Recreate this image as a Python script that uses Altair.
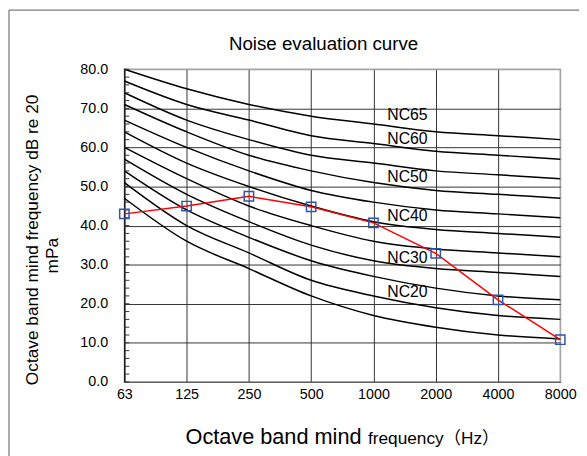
import altair as alt
import pandas as pd

# ---- data ----
bands = ["63", "125", "250", "500", "1000", "2000", "4000", "8000"]

nc15 = [47, 36, 29, 22, 17, 14, 12, 11]
nc20 = [51, 40, 33, 26, 22, 19, 17, 16]
nc25 = [54, 44, 37, 31, 27, 24, 22, 21]
nc30 = [57, 48, 41, 35, 31, 29, 28, 27]
nc35 = [60, 52, 45, 40, 36, 34, 33, 32]
nc40 = [64, 56, 50, 45, 41, 39, 38, 37]
nc45 = [67, 60, 54, 49, 46, 44, 43, 42]
nc50 = [71, 64, 58, 54, 51, 49, 48, 47]
nc55 = [74, 67, 62, 58, 56, 54, 53, 52]
nc60 = [77, 71, 67, 63, 61, 59, 58, 57]
nc65 = [80, 75, 71, 68, 66, 64, 63, 62]

measured = [43.0, 45.0, 47.5, 44.8, 40.7, 32.9, 21.0, 10.8]

label_names = ["NC65", "NC60", "NC50", "NC40", "NC30", "NC20"]
label_levels = [68.2, 62.1, 52.3, 42.4, 31.8, 23.0]

y_ticks = [0, 10, 20, 30, 40, 50, 60, 70, 80]
minor_ticks = [v for v in range(0, 81, 2)]

# ---- tables ----
curves = {"NC15": nc15, "NC20": nc20, "NC25": nc25, "NC30": nc30, "NC35": nc35,
          "NC40": nc40, "NC45": nc45, "NC50": nc50, "NC55": nc55, "NC60": nc60,
          "NC65": nc65}
rows = []
for name, vals in curves.items():
    for i, (b, v) in enumerate(zip(bands, vals)):
        rows.append({"curve": name, "band": b, "order": i, "level": v})
nc_df = pd.DataFrame(rows)
meas_df = pd.DataFrame({"band": bands, "order": list(range(len(bands))), "level": measured})
lab_df = pd.DataFrame({"name": label_names, "level": label_levels, "band": ["1000"] * len(label_names)})
minor_df = pd.DataFrame({"level": minor_ticks})
one = pd.DataFrame({"a": [0]})

FONT = "Liberation Sans"

xs = alt.Scale(domain=bands, type="point", padding=0)
ys = alt.Scale(domain=[0, 80], nice=False, zero=True)

x_axis = alt.Axis(title=None, labelAngle=0, labelFontSize=14.5, labelFont=FONT,
                  labelColor="black", labelPadding=6, ticks=False, labelOverlap=False,
                  grid=True,
                  gridColor={"condition": {"test": "datum.value == '8000'", "value": "#a6a6a6"},
                             "value": "#333333"},
                  gridWidth=1, domainColor="#666666", labelFlush=False)
y_axis = alt.Axis(title=None, values=y_ticks, format=".1f", labelFontSize=14.5,
                  labelFont=FONT, labelColor="black", labelPadding=17, labelOverlap=False,
                  ticks=False, grid=True,
                  gridColor={"condition": {"test": "datum.value == 80", "value": "#a6a6a6"},
                             "value": "#333333"},
                  gridWidth=1, domainColor="black", labelFlush=False, labelBaseline="middle")


def X():
    return alt.X("band:N", scale=xs, sort=bands, axis=x_axis)


def Y():
    return alt.Y("level:Q", scale=ys, axis=y_axis)


frame = alt.Chart(one).mark_rect(fill=None, stroke="#595959", strokeWidth=1).encode(
    x=alt.value(-117), x2=alt.value(700), y=alt.value(-60), y2=alt.value(600))

lines = alt.Chart(nc_df).mark_line(color="black", strokeWidth=1.5, interpolate="monotone").encode(
    x=X(), y=Y(), detail="curve:N", order="order:Q")

minor = alt.Chart(minor_df).mark_rule(color="#333333", strokeWidth=1).encode(
    y=Y(), x=alt.value(0), x2=alt.value(5))

meas_line = alt.Chart(meas_df).mark_line(color="#ff0000", strokeWidth=1.5).encode(
    x=X(), y=Y(), order="order:Q")
meas_pts = alt.Chart(meas_df).mark_point(shape="square", size=90, filled=False,
                                         color="#2f55a8", strokeWidth=1.5, opacity=1).encode(
    x=X(), y=Y())

labels = alt.Chart(lab_df).mark_text(align="left", baseline="middle", dx=14, fontSize=16,
                                     font=FONT, color="black").encode(
    x=X(), y=Y(), text="name:N")

title = alt.Chart(one).mark_text(text="Noise evaluation curve", fontSize=19, font=FONT,
                                 align="center", baseline="alphabetic", color="black").encode(
    x=alt.value(202), y=alt.value(-20))

xt1 = alt.Chart(one).mark_text(text="Octave band mind", fontSize=22, font=FONT,
                               align="left", baseline="alphabetic", color="black").encode(
    x=alt.value(62), y=alt.value(380))
xt2 = alt.Chart(one).mark_text(text="frequency（Hz）", fontSize=17.5,
                               font="Liberation Sans, Noto Sans CJK SC",
                               align="left", baseline="alphabetic", color="black").encode(
    x=alt.value(247), y=alt.value(380))

yt1 = alt.Chart(one).mark_text(text="Octave band mind frequency dB re 20", fontSize=17.5,
                               font=FONT, angle=270, align="center", baseline="middle",
                               color="black").encode(x=alt.value(-93), y=alt.value(173))
yt2 = alt.Chart(one).mark_text(text="mPa", fontSize=17.5, font=FONT, angle=270,
                               align="center", baseline="middle", color="black").encode(
    x=alt.value(-72), y=alt.value(189))

chart = alt.layer(frame, lines, minor, meas_line, meas_pts, labels, title, xt1, xt2, yt1, yt2).properties(
    width=442, height=317,
    autosize=alt.AutoSizeParams(type="none"),
    padding={"left": 118, "top": 59, "right": 19, "bottom": 72},
    background="white",
).configure_view(stroke="#a6a6a6", strokeWidth=1.5).configure_axis(
    labelFontSize=14.5, labelFont=FONT, labelColor="black")

chart.save("out.html", embed_options={"renderer": "svg", "actions": False})
